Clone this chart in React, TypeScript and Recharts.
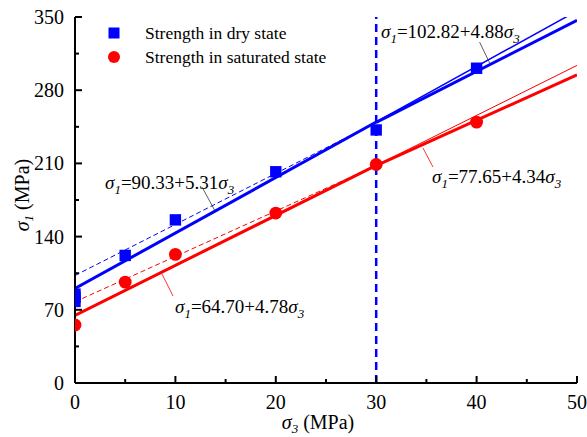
import {
  ComposedChart,
  Line,
  ReferenceLine,
  Scatter,
  XAxis,
  YAxis,
  ZAxis,
} from "recharts";

document.body.style.margin = "0";

const FONT = "'Times New Roman', Times, Tinos, 'Liberation Serif', 'DejaVu Serif', 'Noto Serif', serif";
const BLUE = "#0000ff";
const RED = "#ff0000";

// confining stress (MPa) and peak strength (MPa)
const dryStress3 = [0, 0, 0, 5, 10, 20, 30, 40];
const dryStrength = [78, 82, 85, 122, 156, 202, 242, 301];
const satStress3 = [0, 5, 10, 20, 30, 40];
const satStrength = [55.5, 96.5, 123, 162.5, 209, 249.5];

// fitted lines, end points
const fitX = [0, 30, 50];
const dryFitA = [90.33, 249.63, 355.83]; // 90.33 + 5.31 s3
const dryFitB = [102.82, 249.22, 346.82]; // 102.82 + 4.88 s3
const satFitA = [64.7, 208.1, 303.7]; // 64.70 + 4.78 s3
const satFitB = [77.65, 207.85, 294.65]; // 77.65 + 4.34 s3

const xTicks = [0, 5, 10, 15, 20, 25, 30, 35, 40, 45, 50];
const yTicks = [0, 35, 70, 105, 140, 175, 210, 245, 280, 315, 350];

const pts = (xs: number[], ys: number[]) => xs.map((x, i) => ({ x, y: ys[i] }));
const seg = (ys: number[], from: number, to: number) =>
  pts(fitX.slice(from, to + 1), ys.slice(from, to + 1));

const txt = (size: number) => ({ fontSize: size, fontFamily: FONT });

function XTick({ x, y, payload }: any) {
  const major = payload.value % 10 === 0;
  return (
    <g>
      <line x1={x} x2={x} y1={y} y2={y - (major ? 7 : 4)} stroke="#000" strokeWidth={2} />
      {major && (
        <text x={x} y={y + 26} textAnchor="middle" style={txt(20)} fill="#000">
          {payload.value}
        </text>
      )}
    </g>
  );
}

function YTick({ x, y, payload }: any) {
  const major = payload.value % 70 === 0;
  return (
    <g>
      <line x1={x} x2={x + (major ? 7 : 4)} y1={y} y2={y} stroke="#000" strokeWidth={2} />
      {major && (
        <text x={x - 11} y={y} dy="0.35em" textAnchor="end" style={txt(20)} fill="#000">
          {payload.value}
        </text>
      )}
    </g>
  );
}

function Eq({ x, y, text }: { x: number; y: number; text: string }) {
  return (
    <text x={x} y={y} style={txt(19)} fill="#000">
      <tspan fontStyle="italic">σ</tspan>
      <tspan fontStyle="italic" fontSize={13} dy={5}>1</tspan>
      <tspan dy={-5}>{text}</tspan>
      <tspan fontStyle="italic">σ</tspan>
      <tspan fontStyle="italic" fontSize={13} dy={5}>3</tspan>
    </text>
  );
}

export default function App() {
  return (
    <ComposedChart width={587} height={437} margin={{ top: 17, right: 10, bottom: 0, left: 0 }}>
      <XAxis
        type="number"
        dataKey="x"
        domain={[0, 50]}
        ticks={xTicks}
        allowDataOverflow
        tickSize={0}
        tickMargin={0}
        tickLine={false}
        tick={XTick}
        height={54}
        axisLine={{ stroke: "#000", strokeWidth: 2 }}
      />
      <YAxis
        type="number"
        dataKey="y"
        domain={[0, 350]}
        ticks={yTicks}
        allowDataOverflow
        tickSize={0}
        tickMargin={0}
        tickLine={false}
        tick={YTick}
        width={75}
        axisLine={{ stroke: "#000", strokeWidth: 2 }}
      />
      <ZAxis range={[130, 130]} />

      <ReferenceLine x={30} stroke={BLUE} strokeWidth={2.5} strokeDasharray="8 5" />

      <Line data={seg(dryFitB, 0, 1)} dataKey="y" stroke={BLUE} strokeWidth={1} strokeDasharray="5 3" dot={false} isAnimationActive={false} />
      <Line data={seg(dryFitA, 1, 2)} dataKey="y" stroke={BLUE} strokeWidth={1.5} dot={false} isAnimationActive={false} />
      <Line data={seg(dryFitA, 0, 1)} dataKey="y" stroke={BLUE} strokeWidth={3} dot={false} isAnimationActive={false} />
      <Line data={seg(dryFitB, 1, 2)} dataKey="y" stroke={BLUE} strokeWidth={3} dot={false} isAnimationActive={false} />

      <Line data={seg(satFitB, 0, 1)} dataKey="y" stroke={RED} strokeWidth={1} strokeDasharray="5 3" dot={false} isAnimationActive={false} />
      <Line data={seg(satFitA, 1, 2)} dataKey="y" stroke={RED} strokeWidth={1} dot={false} isAnimationActive={false} />
      <Line data={seg(satFitA, 0, 1)} dataKey="y" stroke={RED} strokeWidth={3} dot={false} isAnimationActive={false} />
      <Line data={seg(satFitB, 1, 2)} dataKey="y" stroke={RED} strokeWidth={3} dot={false} isAnimationActive={false} />

      <Scatter data={pts(dryStress3, dryStrength)} fill={BLUE} shape="square" isAnimationActive={false} />
      <Scatter data={pts(satStress3, satStrength)} fill={RED} shape="circle" isAnimationActive={false} />

      {/* leader lines for the equations */}
      <ReferenceLine segment={[{ x: 40.3, y: 326 }, { x: 41.3, y: 306 }]} stroke="#333" strokeWidth={0.8} />
      <ReferenceLine segment={[{ x: 12.65, y: 187.4 }, { x: 13.9, y: 165.4 }]} stroke="#333" strokeWidth={0.8} />
      <ReferenceLine segment={[{ x: 9.76, y: 83.2 }, { x: 8.67, y: 104.2 }]} stroke={RED} strokeWidth={0.8} />
      <ReferenceLine segment={[{ x: 35.66, y: 206.5 }, { x: 34.66, y: 224.7 }]} stroke={RED} strokeWidth={0.8} />

      <Eq x={381} y={38} text="=102.82+4.88" />
      <Eq x={105} y={189} text="=90.33+5.31" />
      <Eq x={175} y={313} text="=64.70+4.78" />
      <Eq x={432} y={183} text="=77.65+4.34" />

      {/* legend */}
      <rect x={108.5} y={27.5} width={11} height={11} fill={BLUE} />
      <text x={145} y={33} dy="0.35em" style={txt(17.5)} fill="#000">
        Strength in dry state
      </text>
      <circle cx={114} cy={57} r={6} fill={RED} />
      <text x={145} y={57} dy="0.35em" style={txt(17.5)} fill="#000">
        Strength in saturated state
      </text>

      {/* axis titles */}
      <text x={318} y={429} textAnchor="middle" style={txt(20)} fill="#000">
        <tspan fontStyle="italic">σ</tspan>
        <tspan fontStyle="italic" fontSize={13} dy={4}>3</tspan>
        <tspan dy={-4}> (MPa)</tspan>
      </text>
      <text
        x={29}
        y={195}
        textAnchor="middle"
        transform="rotate(-90 29 195)"
        style={txt(20)}
        fill="#000"
      >
        <tspan fontStyle="italic">σ</tspan>
        <tspan fontStyle="italic" fontSize={13} dy={4}>1</tspan>
        <tspan dy={-4}> (MPa)</tspan>
      </text>
    </ComposedChart>
  );
}
